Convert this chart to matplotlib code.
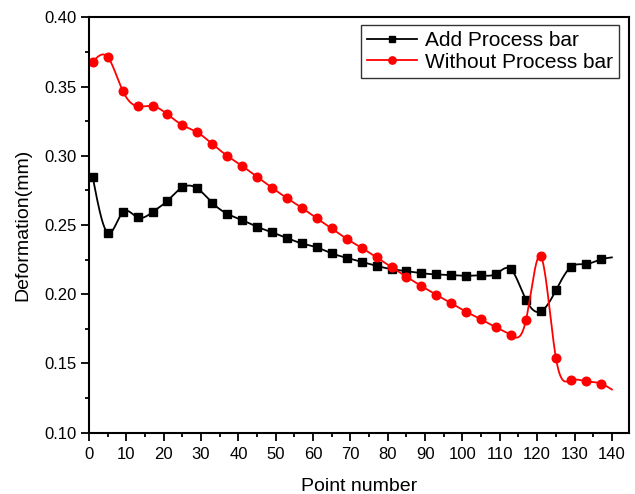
import numpy as np
import matplotlib
matplotlib.use("Agg")
import matplotlib.pyplot as plt
from matplotlib.ticker import MultipleLocator
from matplotlib.lines import Line2D

plt.rcParams['font.family'] = ['Liberation Sans', 'DejaVu Sans']

# ---- data ----
point_number = [1, 5, 9, 13, 17, 21, 25, 29, 33, 37, 41, 45, 49, 53, 57, 61, 65, 69,
                73, 77, 81, 85, 89, 93, 97, 101, 105, 109, 113, 117, 121, 125, 129, 133, 137]
add_process_bar = [0.2844, 0.2444, 0.2591, 0.2555, 0.2593, 0.2675, 0.2772, 0.2764, 0.2660,
                   0.2581, 0.2535, 0.2487, 0.2447, 0.2405, 0.2367, 0.2338, 0.2295, 0.2263,
                   0.2234, 0.2205, 0.2181, 0.2167, 0.2152, 0.2143, 0.2138, 0.2133, 0.2136,
                   0.2147, 0.2179, 0.1960, 0.1876, 0.2027, 0.2196, 0.2217, 0.2251]
without_process_bar = [0.3679, 0.3713, 0.3470, 0.3357, 0.3359, 0.3299, 0.3222, 0.3169, 0.3085,
                       0.3000, 0.2926, 0.2848, 0.2769, 0.2694, 0.2624, 0.2548, 0.2475, 0.2400,
                       0.2335, 0.2266, 0.2196, 0.2126, 0.2059, 0.1996, 0.1934, 0.1873, 0.1818,
                       0.1760, 0.1705, 0.1813, 0.2273, 0.1543, 0.1379, 0.1372, 0.1355]
# final curve end points (no marker)
end_x = 140
add_end = 0.2266
without_end = 0.1312

x_ticks = list(range(0, 141, 10))
y_ticks = [0.10, 0.15, 0.20, 0.25, 0.30, 0.35, 0.40]


def natural_spline(x, y, n=2000):
    x = np.asarray(x, float)
    y = np.asarray(y, float)
    m = len(x)
    h = np.diff(x)
    A = np.zeros((m, m))
    b = np.zeros(m)
    A[0, 0] = 1
    A[-1, -1] = 1
    for i in range(1, m - 1):
        A[i, i - 1] = h[i - 1]
        A[i, i] = 2 * (h[i - 1] + h[i])
        A[i, i + 1] = h[i]
        b[i] = 3 * ((y[i + 1] - y[i]) / h[i] - (y[i] - y[i - 1]) / h[i - 1])
    c = np.linalg.solve(A, b)
    bb = (y[1:] - y[:-1]) / h - h * (2 * c[:-1] + c[1:]) / 3
    d = (c[1:] - c[:-1]) / (3 * h)
    xs = np.linspace(x[0], x[-1], n)
    idx = np.clip(np.searchsorted(x, xs) - 1, 0, m - 2)
    dx = xs - x[idx]
    ys = y[idx] + bb[idx] * dx + c[idx] * dx ** 2 + d[idx] * dx ** 3
    return xs, ys


fig = plt.figure(figsize=(6.35, 4.94), dpi=100)
ax = fig.add_axes([0.1402, 0.1241, 0.8504, 0.8409])

series = [
    (add_process_bar, add_end, 'black', 's', 5.2, 'Add Process bar'),
    (without_process_bar, without_end, 'red', 'o', 6.2, 'Without Process bar'),
]
handles = []
for vals, endv, col, mk, ms, lab in series:
    xs, ys = natural_spline(point_number + [end_x], vals + [endv])
    ax.plot(xs, ys, color=col, lw=1.3)
    ax.plot(point_number, vals, linestyle='none', marker=mk, color=col, markersize=ms)
    handles.append(Line2D([], [], color=col, lw=1.3, marker=mk, markersize=ms * 0.85, label=lab))

ax.set_xlim(0, 144.6)
ax.set_ylim(0.10, 0.40)
ax.set_xticks(x_ticks)
ax.set_yticks(y_ticks)
ax.set_yticklabels([f"{v:.2f}" for v in y_ticks])
ax.xaxis.set_minor_locator(MultipleLocator(5))
ax.yaxis.set_minor_locator(MultipleLocator(0.025))
ax.tick_params(which='major', direction='out', length=5.5, width=1.3, labelsize=12,
               top=False, right=False)
ax.tick_params(axis='x', which='major', pad=5)
ax.tick_params(which='minor', direction='out', length=3, width=1.3, top=False, right=False)
for s in ax.spines.values():
    s.set_linewidth(1.5)

ax.set_xlabel('Point number', fontsize=14, labelpad=11)
ax.set_ylabel('Deformation(mm)', fontsize=14, labelpad=9)

leg = ax.legend(handles=handles, loc='upper right', fontsize=15, frameon=True, fancybox=False,
                edgecolor='black', borderpad=0.3, labelspacing=0.1, handlelength=2.4,
                handletextpad=0.35, borderaxespad=0, bbox_to_anchor=(0.9815, 0.981))
leg.get_frame().set_linewidth(1.0)

fig.savefig('out.png', dpi=100)
